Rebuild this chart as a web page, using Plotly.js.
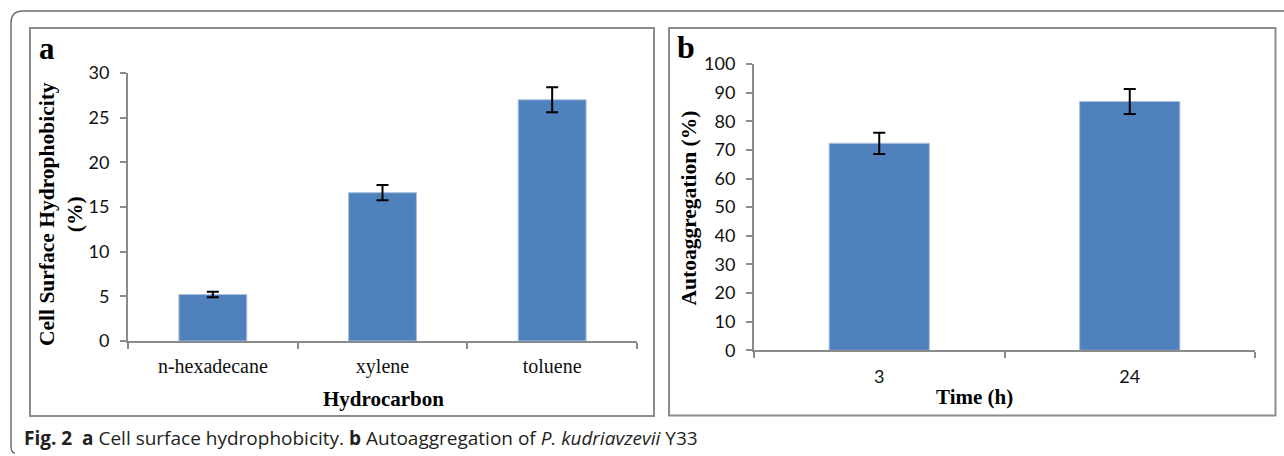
<!DOCTYPE html>
<html>
<head>
<meta charset="utf-8">
<script src="https://cdn.plot.ly/plotly-3.0.1.min.js"></script>
<style>html,body{margin:0;padding:0;background:#fff;} #chart{width:1284px;height:456px;}</style>
</head>
<body>
<div id="chart"></div>
<script>
// ---- data ----
const hydrocarbons = ["n-hexadecane", "xylene", "toluene"];
const hydrophobicity = [5.2, 16.6, 27.0];
const hydrophobicityErr = [0.3, 0.85, 1.4];

const times = ["3", "24"];
const autoaggregation = [72.3, 86.9];
const autoaggregationErr = [3.7, 4.4];

const yTicksA = [0, 5, 10, 15, 20, 25, 30];
const yTicksB = [0, 10, 20, 30, 40, 50, 60, 70, 80, 90, 100];

// ---- helpers (pixel -> paper) ----
const W = 1284, H = 456;
const px = x => x / W;
const py = y => 1 - y / H;

const barColor = "#4F81BD";
const axisColor = "#8a8a8a";
const serif = "Liberation Serif, Times New Roman, serif";
const sans = "Lato, Open Sans, sans-serif";

const traceA = {
  type: "bar", x: hydrocarbons, y: hydrophobicity,
  xaxis: "x", yaxis: "y",
  marker: {color: barColor, line: {color: "#a7bedd", width: 1}},
  error_y: {type: "data", array: hydrophobicityErr, visible: true, color: "#000", thickness: 2, width: 6},
  hoverinfo: "x+y"
};
const traceB = {
  type: "bar", x: times, y: autoaggregation,
  xaxis: "x2", yaxis: "y2",
  marker: {color: barColor, line: {color: "#a7bedd", width: 1}},
  error_y: {type: "data", array: autoaggregationErr, visible: true, color: "#000", thickness: 2, width: 6},
  hoverinfo: "x+y"
};

const commonX = {
  type: "category", showline: true, linecolor: axisColor, linewidth: 2,
  ticks: "outside", tickson: "boundaries", ticklen: 6, tickcolor: axisColor, tickwidth: 1.5,
  showgrid: false, zeroline: false, fixedrange: true
};
const commonY = {
  showline: true, linecolor: axisColor, linewidth: 2,
  ticks: "outside", ticklen: 6, tickcolor: axisColor, tickwidth: 1.5,
  showgrid: false, zeroline: false, fixedrange: true,
  tickfont: {family: sans, size: 18, color: "#111"}, ticklabelstandoff: 7
};

function roundedFramePath() {
  // outer rounded frame: top edge and left edge with rounded corners
  return `M ${px(1284)},${py(11)} L ${px(23)},${py(11)} Q ${px(11)},${py(11)} ${px(11)},${py(23)} ` +
         `L ${px(11)},${py(446)} Q ${px(11)},${py(453)} ${px(15)},${py(453)}`;
}

const layout = {
  width: W, height: H,
  margin: {l: 0, r: 0, t: 0, b: 0},
  paper_bgcolor: "#fff", plot_bgcolor: "rgba(0,0,0,0)",
  showlegend: false,
  bargap: 0.6,
  xaxis: Object.assign({}, commonX, {
    domain: [px(128), px(637)], anchor: "y",
    tickfont: {family: serif, size: 20, color: "#111"}, ticklabelstandoff: 6
  }),
  yaxis: Object.assign({}, commonY, {
    domain: [py(341), py(73)], anchor: "x", range: [0, 30], tickvals: yTicksA
  }),
  xaxis2: Object.assign({}, commonX, {
    domain: [px(754), px(1255)], anchor: "y2",
    tickfont: {family: sans, size: 18, color: "#111"}, ticklabelstandoff: 9
  }),
  yaxis2: Object.assign({}, commonY, {
    domain: [py(350.3), py(64)], anchor: "x2", range: [0, 100], tickvals: yTicksB
  }),
  shapes: [
    {type: "path", xref: "paper", yref: "paper", path: roundedFramePath(), line: {color: "#6e6e6e", width: 1.5}},
    {type: "rect", xref: "paper", yref: "paper", x0: px(30), x1: px(654), y0: py(416), y1: py(28), line: {color: "#8c8c8c", width: 2}},
    {type: "rect", xref: "paper", yref: "paper", x0: px(669), x1: px(1275.5), y0: py(415.5), y1: py(28), line: {color: "#8c8c8c", width: 2}}
  ],
  annotations: [
    {xref: "paper", yref: "paper", x: px(47), y: py(48), text: "<b>a</b>", showarrow: false, xanchor: "center", yanchor: "middle",
     font: {family: serif, size: 31, color: "#000"}},
    {xref: "paper", yref: "paper", x: px(686), y: py(47), text: "<b>b</b>", showarrow: false, xanchor: "center", yanchor: "middle",
     font: {family: serif, size: 32, color: "#000"}},
    {xref: "paper", yref: "paper", x: px(61), y: py(214), text: "<b>Cell Surface Hydrophobicity<br>(%)</b>", showarrow: false,
     textangle: -90, xanchor: "center", yanchor: "middle", font: {family: serif, size: 21.5, color: "#000"}},
    {xref: "paper", yref: "paper", x: px(383), y: py(399), text: "<b>Hydrocarbon</b>", showarrow: false,
     xanchor: "center", yanchor: "middle", font: {family: serif, size: 21, color: "#000"}},
    {xref: "paper", yref: "paper", x: px(688), y: py(207.5), text: "<b>Autoaggregation (%)</b>", showarrow: false,
     textangle: -90, xanchor: "center", yanchor: "middle", font: {family: serif, size: 21.5, color: "#000"}},
    {xref: "paper", yref: "paper", x: px(974), y: py(397), text: "<b>Time (h)</b>", showarrow: false,
     xanchor: "center", yanchor: "middle", font: {family: serif, size: 21, color: "#000"}},
    {xref: "paper", yref: "paper", x: px(22), y: py(438), xanchor: "left", yanchor: "middle", showarrow: false,
     text: "<b>Fig. 2</b>\u00a0\u00a0<b>a</b> Cell surface hydrophobicity. <b>b</b> Autoaggregation of <i>P. kudriavzevii</i> Y33",
     font: {family: "Open Sans, Noto Sans, sans-serif", size: 19, color: "#231f20"}}
  ]
};

Plotly.newPlot("chart", [traceA, traceB], layout, {displayModeBar: false, staticPlot: false, responsive: false});
</script>
</body>
</html>
